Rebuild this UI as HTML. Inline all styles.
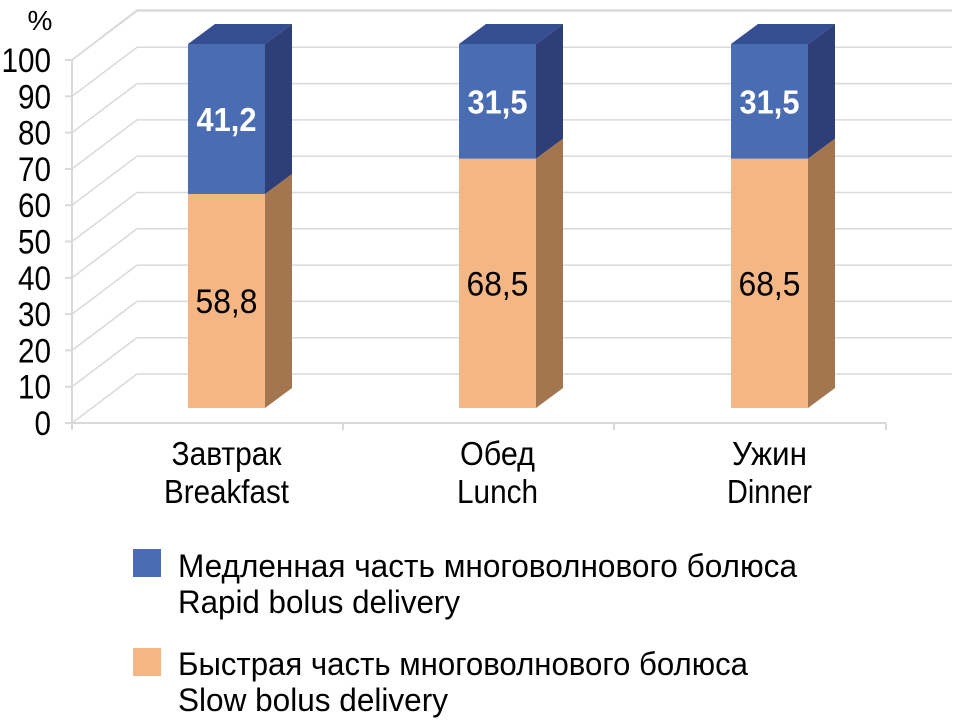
<!DOCTYPE html>
<html><head><meta charset="utf-8"><style>
html,body{margin:0;padding:0;background:#fff;width:960px;height:723px;overflow:hidden}
svg{display:block;font-family:"Liberation Sans",sans-serif}
</style></head><body>
<svg id="chart" width="960" height="723" viewBox="0 0 960 723" xmlns="http://www.w3.org/2000/svg">
<g id="grid"></g>
<g id="axes"></g>
<g id="bars"></g>
<g id="labels"></g>
<g id="legend">
  <rect x="133" y="549" width="28" height="28" fill="#4a6cb3"/>
  <text x="178" y="577" font-size="32" textLength="619" lengthAdjust="spacingAndGlyphs">Медленная часть многоволнового болюса</text>
  <text x="178" y="613" font-size="32" textLength="282" lengthAdjust="spacingAndGlyphs">Rapid bolus delivery</text>
  <rect x="133" y="648" width="28" height="28" fill="#f4b684"/>
  <text x="178" y="675" font-size="32" textLength="570" lengthAdjust="spacingAndGlyphs">Быстрая часть многоволнового болюса</text>
  <text x="178" y="711" font-size="32" textLength="270" lengthAdjust="spacingAndGlyphs">Slow bolus delivery</text>
</g>
</svg>
<script>
const categoriesRu = ["Завтрак", "Обед", "Ужин"];
const categoriesEn = ["Breakfast", "Lunch", "Dinner"];
const slowValues = [58.8, 68.5, 68.5];
const rapidValues = [41.2, 31.5, 31.5];
const slowLabels = ["58,8", "68,5", "68,5"];
const rapidLabels = ["41,2", "31,5", "31,5"];
const yTicks = [0, 10, 20, 30, 40, 50, 60, 70, 80, 90, 100];

const NS = "http://www.w3.org/2000/svg";
function mk(tag, attrs, parent) {
  const e = document.createElementNS(NS, tag);
  for (const k in attrs) e.setAttribute(k, attrs[k]);
  parent.appendChild(e);
  return e;
}
const yFront = v => 423 - v * 3.63;
const yBar = v => 408 - v * 3.64;
const barLeft = [188, 459, 731];
const xBar = i => barLeft[i];
const BW = 77, DX = 27, DY = 20;
const ruWidths = [110, 75, 75];
const enWidths = [125, 81, 85];

const gridG = document.getElementById('grid');
const axesG = document.getElementById('axes');
const barsG = document.getElementById('bars');
const labelsG = document.getElementById('labels');

yTicks.forEach(t => {
  const yf = yFront(t), yb = yf - 49;
  const d = mk('line', {x1: 72, y1: yf, x2: 137, y2: yb, stroke: '#d9d9d9', 'stroke-width': 1.5}, gridG);
  
  
  const h = mk('line', {x1: 137, y1: yb, x2: 952, y2: yb, stroke: '#d9d9d9', 'stroke-width': 1.5}, gridG);
  
  
  const tk = mk('line', {x1: 65, y1: yf, x2: 72, y2: yf, stroke: '#d9d9d9', 'stroke-width': 2}, axesG);
  
  
  const str = String(t);
  const tl = mk('text', {x: 51, y: yf + 12, 'font-size': 34, 'text-anchor': 'end', fill: '#000', textLength: str.length * 16.5, lengthAdjust: 'spacingAndGlyphs'}, axesG);
  tl.textContent = str;
  
  
});
const topDepth = mk('line', {x1: 72, y1: yFront(100), x2: 137, y2: 10, stroke: '#d9d9d9', 'stroke-width': 1.5}, gridG);


const topH = mk('line', {x1: 137, y1: 10, x2: 952, y2: 10, stroke: '#d9d9d9', 'stroke-width': 1.5}, gridG);



const ya = mk('line', {x1: 72, y1: yFront(100), x2: 72, y2: 428, stroke: '#d9d9d9', 'stroke-width': 2}, axesG);


const xa = mk('line', {x1: 72, y1: 423, x2: 886, y2: 423, stroke: '#d9d9d9', 'stroke-width': 2}, axesG);


[72, 343, 614, 886].forEach((x, k) => {
  const t = mk('line', {x1: x, y1: 423, x2: x, y2: 430, stroke: '#d9d9d9', 'stroke-width': 2}, axesG);
  
  
});
const pct = mk('text', {x: 40, y: 30, 'font-size': 28, 'text-anchor': 'middle'}, axesG);
pct.textContent = '%';



function prism(x, y0, y1, front, side, topc, name, drawTop) {
  const g = mk('g', {}, barsG);
  
  
  mk('rect', {x: x, y: y1, width: BW, height: y0 - y1, fill: front}, g);
  mk('polygon', {points: `${x+BW},${y0} ${x+BW+DX},${y0-DY} ${x+BW+DX},${y1-DY} ${x+BW},${y1}`, fill: side}, g);
  if (drawTop) mk('polygon', {points: `${x},${y1} ${x+DX},${y1-DY} ${x+BW+DX},${y1-DY} ${x+BW},${y1}`, fill: topc}, g);
}

categoriesRu.forEach((c, i) => {
  const x = xBar(i);
  const s = slowValues[i], r = rapidValues[i];
  prism(x, yBar(0), yBar(s), '#f4b684', '#a47650', '#c08a60', 'bar-slow-' + categoriesEn[i].toLowerCase(), false);
  prism(x, yBar(s), yBar(s + r), '#4a6cb3', '#2e3f78', '#344e91', 'bar-rapid-' + categoriesEn[i].toLowerCase(), true);
  const cx = x + BW / 2;
  const sl = mk('text', {x: cx, y: (yBar(0) + yBar(s)) / 2 + 12, 'font-size': 34, 'text-anchor': 'middle', fill: '#000', textLength: 62, lengthAdjust: 'spacingAndGlyphs'}, labelsG);
  sl.textContent = slowLabels[i];
  
  
  const rl = mk('text', {x: cx, y: (yBar(s) + yBar(s + r)) / 2 + 12, 'font-size': 33, 'font-weight': 'bold', 'text-anchor': 'middle', fill: '#fff', textLength: 60, lengthAdjust: 'spacingAndGlyphs'}, labelsG);
  rl.textContent = rapidLabels[i];
  
  
  const c1 = mk('text', {x: cx, y: 465, 'font-size': 33, 'text-anchor': 'middle', textLength: ruWidths[i], lengthAdjust: 'spacingAndGlyphs'}, labelsG);
  c1.textContent = c;
  
  
  const c2 = mk('text', {x: cx, y: 503, 'font-size': 33, 'text-anchor': 'middle', textLength: enWidths[i], lengthAdjust: 'spacingAndGlyphs'}, labelsG);
  c2.textContent = categoriesEn[i];
  
  
});
</script>
</body></html>
